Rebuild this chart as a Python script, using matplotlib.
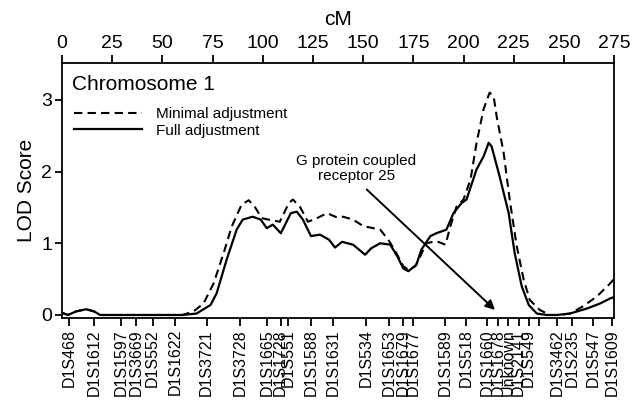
import matplotlib
matplotlib.use("Agg")
import matplotlib.pyplot as plt

plt.rcParams['font.family'] = ['Liberation Sans', 'DejaVu Sans']

# LOD score curves (cM, LOD)
cm_full = [0, 3, 7, 12, 16, 19, 30, 45, 60, 67, 74, 77, 82, 87, 90, 95, 99, 102,
           105, 109, 114, 117, 120, 124, 128.5, 133, 136, 139.5, 145, 151, 154,
           158.5, 163.5, 167, 170, 172.5, 176.5, 179, 183.5, 186.5, 191.5, 195,
           199, 201.5, 206.5, 210, 212.5, 214, 218, 222.5, 225.5, 229, 232.5,
           236.5, 241.5, 246.5, 253, 261.5, 268, 273, 275]
lod_full = [0.03, 0.0, 0.05, 0.08, 0.05, 0.0, 0.0, 0.0, 0.0, 0.02, 0.14, 0.30,
            0.77, 1.19, 1.33, 1.37, 1.33, 1.21, 1.26, 1.14, 1.42, 1.44, 1.33,
            1.10, 1.12, 1.05, 0.94, 1.02, 0.98, 0.84, 0.93, 1.00, 0.98, 0.82,
            0.65, 0.61, 0.70, 0.91, 1.10, 1.14, 1.19, 1.42, 1.56, 1.61, 2.03,
            2.21, 2.40, 2.35, 1.93, 1.42, 0.86, 0.40, 0.14, 0.02, 0.0, 0.0,
            0.02, 0.09, 0.16, 0.23, 0.25]

cm_min = [0, 3, 7, 12, 16, 19, 30, 45, 60, 65.5, 70.5, 75.5, 80.5, 84.5, 89.5,
          93, 96, 99.5, 104.5, 108.5, 113, 115, 118.5, 122.5, 127, 132, 137,
          140, 145, 150, 158.5, 162.5, 166, 170, 172.5, 176, 178.5, 181.5,
          186.5, 191, 193.5, 196.5, 200, 203.5, 206.5, 210, 213, 215, 216.5,
          220, 223, 226.5, 230, 233, 238, 243, 248, 253, 259.5, 266.5, 273, 275]
lod_min = [0.03, 0.0, 0.05, 0.08, 0.05, 0.0, 0.0, 0.0, 0.0, 0.05, 0.16, 0.44,
           0.86, 1.23, 1.54, 1.60, 1.51, 1.35, 1.32, 1.30, 1.56, 1.61, 1.51,
           1.30, 1.35, 1.42, 1.36, 1.37, 1.33, 1.24, 1.19, 1.05, 0.89, 0.68,
           0.63, 0.68, 0.82, 1.00, 1.03, 0.98, 1.24, 1.51, 1.61, 1.89, 2.40,
           2.87, 3.10, 3.05, 2.77, 2.26, 1.61, 0.96, 0.49, 0.21, 0.07, 0.0,
           0.0, 0.02, 0.12, 0.26, 0.44, 0.50]

# marker positions along the chromosome
marker_cm = [3.5, 16.1, 29.4, 36.9, 45.2, 56.3, 72.1, 88.7, 102.0, 108.9, 112.8,
             124.1, 135.2, 151.5, 162.9, 170.1, 175.0, 190.8, 201.3, 211.6,
             217.4, 222.4, 227.4, 232.4, 237.4, 246.5, 254.0, 264.7, 273.9]
marker_names = ['D1S468', 'D1S1612', 'D1S1597', 'D1S3669', 'D1S552', 'D1S1622',
                'D1S3721', 'D1S3728', 'D1S1665', 'D1S1728', 'D1S551', 'D1S1588',
                'D1S1631', 'D1S534', 'D1S1653', 'D1S1679', 'D1S1677', 'D1S1589',
                'D1S518', 'D1S1660', 'D1S1678', 'Unknown', 'D1S2141', 'D1S549',
                '', 'D1S3462', 'D1S235', 'D1S547', 'D1S1609']

cm_ticks = list(range(0, 276, 25))
lod_ticks = [0, 1, 2, 3]

gpr25_label = (146.6, 2.04)
gpr25_arrow_tail = (151.8, 1.75)
gpr25_arrow_head = (215.7, 0.07)

fig = plt.figure(figsize=(6.39, 4.0), dpi=100)
ax = fig.add_axes([0.097, 0.205, 0.864, 0.638])

ax.plot(cm_min, lod_min, color="black", lw=1.5, ls=(0, (4, 2.5)), label="Minimal adjustment")
ax.plot(cm_full, lod_full, color="black", lw=1.6, label="Full adjustment")

ax.set_xlim(0, 275)
ax.set_ylim(-0.042, 3.516)

for s in ax.spines.values():
    s.set_linewidth(1.3)

# cM scale on top
ax.xaxis.tick_top()
ax.xaxis.set_label_position("top")
ax.set_xticks(cm_ticks)
ax.set_xlabel("cM", fontsize=15, labelpad=7)
ax.tick_params(axis="x", direction="out", length=6, width=1.3, labelsize=14, pad=2)

ax.set_yticks(lod_ticks)
ax.set_ylabel("LOD Score", fontsize=15, labelpad=4)
ax.tick_params(axis="y", direction="out", length=5, width=1.3, labelsize=14, pad=2)

# markers on the bottom
sec = ax.secondary_xaxis("bottom")
sec.set_xticks(marker_cm, marker_names, rotation=90, fontsize=11.5)
sec.tick_params(direction="out", length=6, width=1.3, pad=2)
sec.spines["bottom"].set_visible(False)

ax.text(5, 3.21, "Chromosome 1", fontsize=15, ha="left", va="center")
ax.legend(loc="upper left", bbox_to_anchor=(0.021, 0.825), frameon=False,
          fontsize=11, handlelength=4.5, handletextpad=0.9, labelspacing=0.15,
          borderpad=0, borderaxespad=0)

ax.text(gpr25_label[0], gpr25_label[1], "G protein coupled\nreceptor 25",
        fontsize=11, ha="center", va="center", linespacing=1.05)
ax.annotate("", xy=gpr25_arrow_head, xytext=gpr25_arrow_tail,
            arrowprops=dict(arrowstyle="-|>", color="black", lw=1.4,
                            mutation_scale=14, shrinkA=0, shrinkB=0))

plt.savefig("out.png", dpi=100)
